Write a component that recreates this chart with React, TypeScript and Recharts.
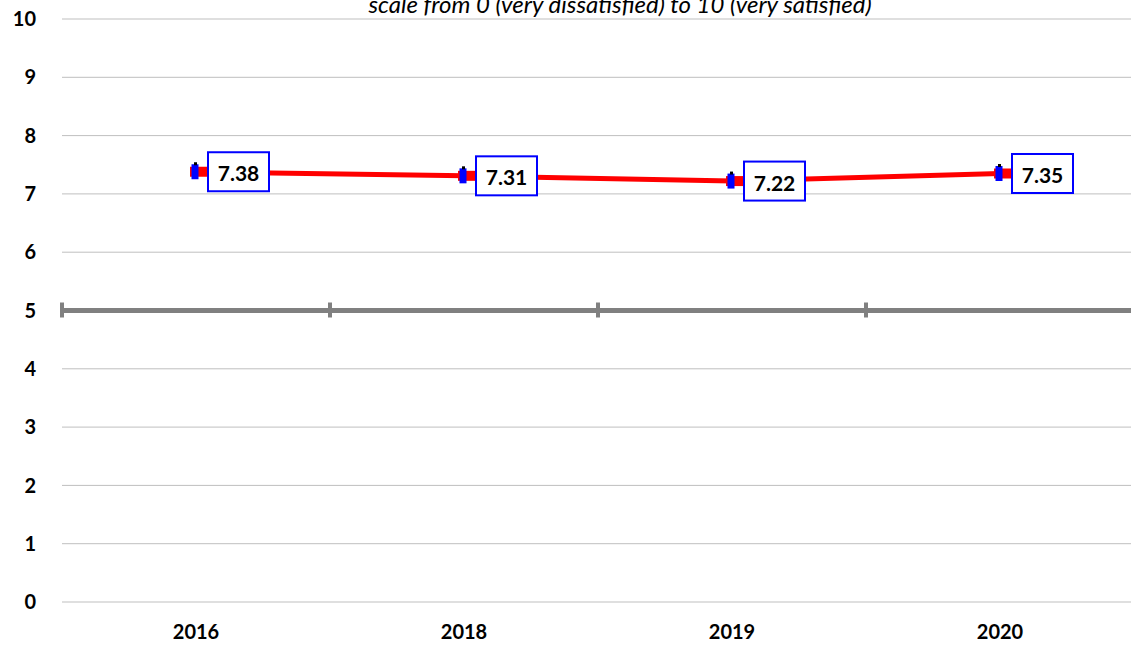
import { LineChart, Line, XAxis, YAxis, CartesianGrid, ReferenceLine, LabelList } from "recharts"

const years = ["2016", "2018", "2019", "2020"]
const scores = [7.38, 7.31, 7.22, 7.35]
const yTicks = [0, 1, 2, 3, 4, 5, 6, 7, 8, 9, 10]
const titleText = "scale from 0 (very dissatisfied) to 10 (very satisfied)"

const data = years.map((year, i) => ({ year, score: scores[i] }))

const FONT = "Lato, 'Open Sans', sans-serif"

function MidLine(props: any) {
  const { x1, x2, y1 } = props
  const n = years.length
  const step = (x2 - x1) / n
  const marks = Array.from({ length: n + 1 }, (_, i) => x1 + i * step)
  return (
    <g>
      <line x1={x1} x2={x2} y1={y1} y2={y1} stroke="#808080" strokeWidth={5} />
      {marks.map((mx, i) => (
        <line key={i} x1={mx} x2={mx} y1={y1 - 8} y2={y1 + 7} stroke="#808080" strokeWidth={4} />
      ))}
    </g>
  )
}

function ScoreDot(props: any) {
  const { cx, cy, index } = props
  if (cx == null || cy == null) return null
  return (
    <g key={`dot-${index}`}>
      <rect x={cx - 6} y={cy - 5} width={18} height={10} fill="#ff0000" />
      <rect x={cx - 4.5} y={cy - 7.5} width={7} height={15} fill="#0000ff" />
      <rect x={cx - 2} y={cy - 9.5} width={3} height={3} fill="#000" />
    </g>
  )
}

function ScoreLabel(props: any) {
  const { x, y, value } = props
  return (
    <g>
      <rect x={x + 12} y={y - 19.5} width={61} height={39} fill="#fff" stroke="#0000ff" strokeWidth={2} />
      <text x={x + 42.5} y={y + 1} textAnchor="middle" dominantBaseline="central"
        fontFamily={FONT} fontWeight={700} fontSize={21} fill="#000">
        {value.toFixed(2)}
      </text>
    </g>
  )
}

export default function App() {
  return (
    <div style={{ position: "absolute", top: 0, left: 0, width: 1131, height: 645, overflow: "hidden", background: "#fff" }}>
      <div style={{
        position: "absolute", top: -8, left: 0, width: 1240, textAlign: "center",
        fontFamily: FONT, fontStyle: "italic", fontSize: 24, lineHeight: "24px", whiteSpace: "nowrap",
      }}>
        {titleText}
      </div>
      <LineChart width={1134} height={645} data={data} margin={{ top: 19, right: 0, left: 0, bottom: 0 }}>
        <CartesianGrid vertical={false} stroke="#bfbfbf" strokeWidth={1} />
        <XAxis dataKey="year" axisLine={false} tickLine={false} height={43} tickSize={0} tickMargin={23}
          padding={{ left: 134, right: 134 }}
          tick={{ fontFamily: FONT, fontWeight: 700, fontSize: 20, fill: "#000" }} />
        <YAxis domain={[0, 10]} ticks={yTicks} axisLine={false} tickLine={false} width={62} tickSize={0}
          tickMargin={26} interval={0}
          tick={{ fontFamily: FONT, fontWeight: 700, fontSize: 20, fill: "#000" }} />
        <ReferenceLine y={5} shape={MidLine} />
        <Line dataKey="score" stroke="#ff0000" strokeWidth={5} dot={ScoreDot} activeDot={false}
          isAnimationActive={false}>
          <LabelList dataKey="score" content={ScoreLabel} />
        </Line>
      </LineChart>
    </div>
  )
}
